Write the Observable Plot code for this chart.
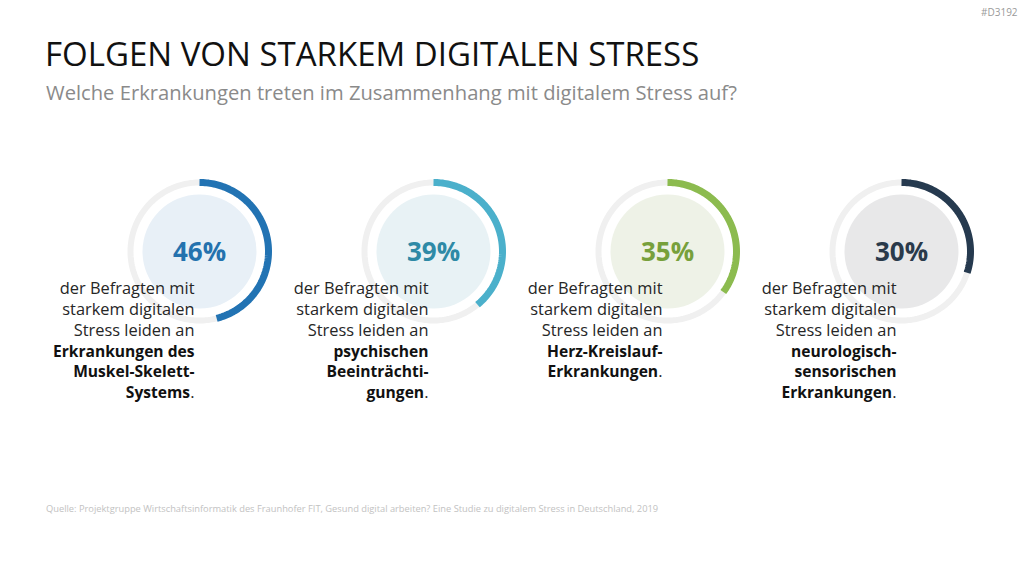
<!DOCTYPE html>
<html><head><meta charset="utf-8">
<script src="https://cdn.jsdelivr.net/npm/d3@7"></script>
<script src="https://cdn.jsdelivr.net/npm/@observablehq/plot@0.6"></script>
<style>
body{margin:0;background:#fff;font-family:"Open Sans",sans-serif;}
#page{position:relative;width:1024px;height:576px;overflow:hidden;background:#fff;}
#tag{position:absolute;left:981px;top:7px;font-size:10px;color:#9a9a9a;line-height:1;}
#title{position:absolute;left:45px;top:37px;font-size:33px;line-height:1;color:#111;white-space:nowrap;}
#subtitle{position:absolute;left:46px;top:82px;font-size:20.2px;line-height:1;color:#8a8a8a;white-space:nowrap;}
#chart{position:absolute;left:0;top:130px;}
#source{position:absolute;left:46px;top:504px;font-size:9.3px;line-height:1;color:#c2c2c2;white-space:nowrap;}
</style></head><body>
<div id="page">
  <div id="tag">#D3192</div>
  <div id="title">FOLGEN VON STARKEM DIGITALEN STRESS</div>
  <div id="subtitle">Welche Erkrankungen treten im Zusammenhang mit digitalem Stress auf?</div>
  <div id="chart"></div>
  <div id="source">Quelle: Projektgruppe Wirtschaftsinformatik des Fraunhofer FIT, Gesund digital arbeiten? Eine Studie zu digitalem Stress in Deutschland, 2019</div>
</div>
<script>
// ---- data ----
const categories = ["Muskel-Skelett-System", "Psyche", "Herz-Kreislauf", "Neurologisch-sensorisch"];
const percents = [46, 39, 35, 30];
const arcColors = ["#2273b3", "#4bb0cb", "#8cbb4f", "#263a4f"];
const labelColors = ["#2472ae", "#2e8aa6", "#77a03b", "#2a3a4b"];
const fillColors = ["#e8f0f7", "#e8f2f5", "#eef2e7", "#e8e8e9"];
const introLines = ["der Befragten mit", "starkem digitalen", "Stress leiden an"];
const boldLines = [
  ["Erkrankungen des", "Muskel-Skelett-", "Systems"],
  ["psychischen", "Beeinträchti-", "gungen"],
  ["Herz-Kreislauf-", "Erkrankungen"],
  ["neurologisch-", "sensorischen", "Erkrankungen"]
];

// ---- layout (pixels) ----
const W = 1024, H = 340;
const spacing = 234, firstX = 199, centerY = 121;
const ringR = 69 / spacing;          // ring centre-line radius in index units
const fs = 16.4, bfs = 15.6, lh = 20.8;
const firstBase = 42.7;              // first text baseline below circle centre

const rows = categories.map((c, i) => ({
  i, c, pct: percents[i],
  arc: arcColors[i], lab: labelColors[i], fill: fillColors[i],
  intro: introLines.join("\n"),
  boldHead: boldLines[i].slice(0, -1).join("\n"),
  boldLast: boldLines[i][boldLines[i].length - 1],
  nb: boldLines[i].length
}));

function circlePts(frac) {
  const out = [];
  rows.forEach(r => {
    const f = frac(r), n = Math.max(2, Math.round(240 * f));
    for (let j = 0; j <= n; j++) {
      const t = 2 * Math.PI * f * j / n;
      out.push({k: r.i, color: r.arc, x: r.i + ringR * Math.sin(t), y: ringR * Math.cos(t)});
    }
  });
  return out;
}
const track = circlePts(() => 1);
const arcs = circlePts(r => r.pct / 100);

const topOff = 0.71 * lh;
const dy0 = firstBase - topOff;
const periodW = 4.4;

const marks = [
  Plot.line(track, {x: "x", y: "y", z: "k", stroke: "#f0f0f0", strokeWidth: 6, strokeLinecap: "butt"}),
  Plot.dot(rows, {x: "i", y: () => 0, r: 57, fill: "fill", stroke: null}),
  Plot.line(arcs, {x: "x", y: "y", z: "k", stroke: "color", strokeWidth: 7, strokeLinecap: "butt"}),
  Plot.text(rows, {x: "i", y: () => 0, text: r => r.pct + "%", fill: "lab", fontSize: 26, fontWeight: "bold", dy: 1, fontFamily: "Open Sans"}),
  Plot.text(rows, {x: "i", y: () => 0, text: "intro", textAnchor: "end", lineAnchor: "top", lineHeight: lh / fs, dx: -5, dy: dy0, fontSize: fs, fill: "#262626", fontFamily: "Open Sans"}),
  ...rows.map(r => Plot.text([r], {x: "i", y: () => 0, text: "boldHead", textAnchor: "end", lineAnchor: "top", lineHeight: lh / bfs, dx: -5, dy: dy0 + 3 * lh, fontSize: bfs, fontWeight: "bold", fill: "#111", fontFamily: "Open Sans"})),
  ...rows.map(r => Plot.text([r], {x: "i", y: () => 0, text: "boldLast", textAnchor: "end", lineAnchor: "top", lineHeight: lh / bfs, dx: -5 - periodW, dy: dy0 + (3 + r.nb - 1) * lh, fontSize: bfs, fontWeight: "bold", fill: "#111", fontFamily: "Open Sans"})),
  ...rows.map(r => Plot.text([r], {x: "i", y: () => 0, text: () => ".", textAnchor: "end", lineAnchor: "top", lineHeight: lh / fs, dx: -5, dy: dy0 + (3 + r.nb - 1) * lh, fontSize: fs, fill: "#262626", fontFamily: "Open Sans"}))
];

const chart = Plot.plot({
  width: W, height: H, margin: 0,
  x: {domain: [-firstX / spacing, (W - firstX) / spacing], axis: null},
  y: {domain: [-(H - centerY) / spacing, centerY / spacing], axis: null},
  color: {type: "identity"},
  style: {background: "transparent", fontFamily: "Open Sans", overflow: "visible"},
  marks
});
document.getElementById("chart").appendChild(chart);
</script>
</body></html>
